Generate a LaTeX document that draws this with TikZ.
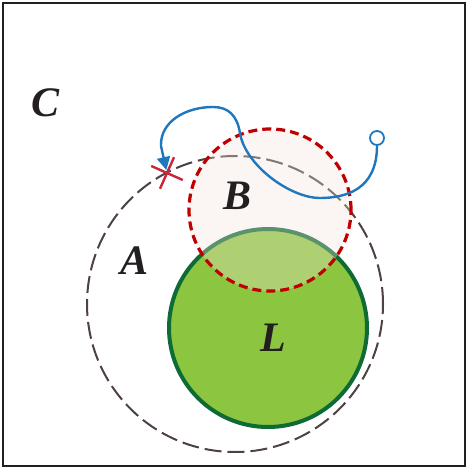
\documentclass[tikz,border=0pt]{standalone}
\usepackage{fontspec}
\setmainfont{Liberation Serif}
\usetikzlibrary{shapes.misc,arrows.meta}
\definecolor{frameC}{HTML}{231F20}
\definecolor{aC}{HTML}{4D4142}
\definecolor{bC}{HTML}{C00000}
\definecolor{bFill}{RGB}{244,229,218}
\definecolor{lFill}{HTML}{8CC540}
\definecolor{lBorder}{HTML}{0F6B35}
\definecolor{blueC}{HTML}{1F77BE}
\definecolor{crossC}{HTML}{C8283C}
\tikzset{
  lab/.style={font=\fontsize{42}{42}\selectfont\bfseries\itshape, text=frameC, inner sep=0pt},
  setA/.style={circle, inner sep=0pt, minimum size=296pt, draw=aC, line width=2pt, dash pattern=on 17pt off 6pt},
  setL/.style={circle, inner sep=0pt, minimum size=198pt, draw=lBorder, fill=lFill, line width=4pt},
  setB/.style={circle, inner sep=0pt, minimum size=162pt, draw=bC, line width=3.2pt, dash pattern=on 9pt off 5pt, fill=bFill, fill opacity=0.33, draw opacity=1},
  startdot/.style={circle, inner sep=0pt, minimum size=14pt, draw=blueC, fill=white, line width=1.8pt},
  xmark/.style={cross out, inner sep=0pt, minimum size=22pt, draw=crossC, line width=2.4pt, rotate=21},
  path/.style={blueC, line width=2.4pt}
}
\begin{document}
\begin{tikzpicture}[x=1pt,y=-1pt]
\useasboundingbox (0,0) rectangle (468,470);
\draw[frameC, line width=2pt] (3,3) rectangle (465,466);
\node[setA] (A) at (235,304) {};
\node[setL] (L) at (268,328) {};
\node[setB] (B) at (270,210) {};
\node[startdot] (o) at (377,138) {};
\node[xmark] (x) at (167,173) {};
\draw[path, -{Triangle[length=13pt,width=13pt]}, shorten >=3pt]
  (o.south) .. controls (377,190) and (345,198) .. (320,198)
  .. controls (290,198) and (245,165) .. (240,133)
  .. controls (237,115) and (228,107) .. (213,107)
  .. controls (185,107) and (160,122) .. (161,146)
  -- (x.center);
\node[lab] (labC) at (46,103) {C};
\node[lab] (labB) at (238,196) {B};
\node[lab] (labA) at (135,261) {A};
\node[lab] (labL) at (273,338) {L};
\end{tikzpicture}
\end{document}
